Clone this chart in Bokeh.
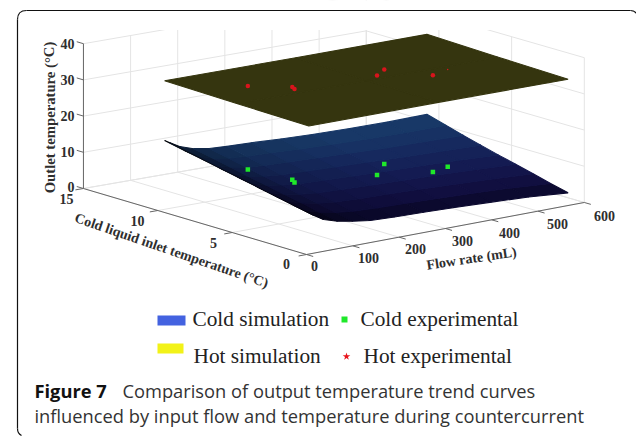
from bokeh.plotting import figure
from bokeh.embed import file_html
from bokeh.resources import INLINE
from bokeh.core.properties import value
import math

# ---- data ----
flow_ticks = [0, 100, 200, 300, 400, 500, 600]
inlet_ticks = [0, 5, 10, 15]
outlet_ticks = [0, 10, 20, 30, 40]

surf_flow = [5, 15, 37, 67, 100, 138, 190, 253, 320, 400, 480, 565]
surf_inlet = [0, 1.2, 2.4, 3.6, 4.8, 6, 7.2, 8.4, 9.7]
cold_z_0 = [11.5, 10.5, 8.8, 7.6, 6.8, 6.1, 5.8, 5.6, 5.3, 4.9, 4.4, 3.5]
cold_z_1 = [12.5, 11.5, 9.8, 8.6, 7.8, 7.2, 6.9, 6.7, 6.4, 6.0, 5.5, 4.7]
cold_z_2 = [13.5, 12.55, 10.9, 9.7, 8.9, 8.3, 8.0, 7.8, 7.5, 7.1, 6.6, 6.0]
cold_z_3 = [14.5, 13.6, 11.9, 10.7, 9.9, 9.4, 9.1, 8.8, 8.5, 8.2, 7.8, 7.2]
cold_z_4 = [15.5, 14.6, 13.0, 11.7, 11.0, 10.5, 10.2, 9.9, 9.6, 9.3, 8.9, 8.4]
cold_z_5 = [16.5, 15.6, 14.0, 12.7, 12.0, 11.5, 11.3, 11.0, 10.7, 10.3, 10.0, 9.7]
cold_z_6 = [17.5, 16.7, 15.0, 13.8, 13.0, 12.6, 12.4, 12.1, 11.8, 11.4, 11.2, 11.0]
cold_z_7 = [18.5, 17.7, 16.1, 14.8, 14.1, 13.7, 13.5, 13.1, 12.8, 12.5, 12.4, 12.4]
cold_z_8 = [19.6, 18.8, 17.2, 15.9, 15.2, 14.9, 14.7, 14.3, 14.0, 13.8, 13.7, 13.9]
cold_rows = [cold_z_0, cold_z_1, cold_z_2, cold_z_3, cold_z_4, cold_z_5, cold_z_6, cold_z_7, cold_z_8]

hot_flow = [5, 285, 565]
hot_inlet = [0, 4.85, 9.7]
hot_z_0 = [35.4, 35.2, 34.9]
hot_z_1 = [35.7, 35.5, 35.4]
hot_z_2 = [36.1, 36.0, 36.0]
hot_rows = [hot_z_0, hot_z_1, hot_z_2]

exp_flow = [110, 164, 158, 329, 365, 403, 449]
exp_inlet = [7.4, 6.1, 5.76, 5.57, 6.22, 4.11, 4.56]
exp_hot = [35, 35, 35, 35, 35, 35, 35]
exp_cold = [11.9, 9.4, 9.2, 7.5, 8.9, 8.3, 8.1]

# ---- styles ----
cold_row_colors = ["#0c0a30", "#110f40", "#13154a", "#141b52", "#152258", "#16295e", "#173163", "#183867", "#1a406c"]
cold_col_shade = [0.10, 0.30, 0.55, 0.72, 0.82, 0.88, 0.93, 0.97, 1, 1, 1, 1]
hot_color = "#35350f"
grid_color = "#e4e4e4"
axis_color = "#666666"
tick_color = "#2e2e2e"


def proj(x, y, z):
    sx = 306 + 0.463 * x - 14.87 * y + 5 * (x / 600) * (y / 15)
    sy = 254 - 0.0867 * x - 4.4 * y - 3.62 * z + 3 * (x / 600) * (y / 15)
    return sx, sy


def shade(c, f):
    r, g, b = int(c[1:3], 16), int(c[3:5], 16), int(c[5:7], 16)
    return "#%02x%02x%02x" % (int(r * f), int(g * f), int(b * f))


p = figure(width=636, height=436, x_range=(0, 636), y_range=(436, 0),
           output_backend="svg", toolbar_location=None, x_axis_location=None,
           y_axis_location=None, min_border=0, outline_line_color=None)
p.grid.visible = False


def seg(a, b, color, width):
    p.line([a[0], b[0]], [a[1], b[1]], line_color=color, line_width=width)


# grid on floor and walls
for x in flow_ticks:
    seg(proj(x, 0, 0), proj(x, 15, 0), grid_color, 1)
    seg(proj(x, 15, 0), proj(x, 15, 40), grid_color, 1)
for y in inlet_ticks:
    seg(proj(0, y, 0), proj(600, y, 0), grid_color, 1)
    seg(proj(600, y, 0), proj(600, y, 40), grid_color, 1)
for z in outlet_ticks:
    seg(proj(0, 15, z), proj(600, 15, z), grid_color, 1)
    seg(proj(600, 15, z), proj(600, 0, z), grid_color, 1)
# picture is cropped above the box top
p.quad(left=0, right=636, top=0, bottom=29, fill_color="white", line_color="white")

# card border
p.line([17, 17], [428, 19], line_color="#111111", line_width=1.2)
p.line([26, 630], [10, 10], line_color="#111111", line_width=1.2)
p.quadratic(x0=[17, 17], y0=[19, 428], x1=[26, 21], y1=[10, 435], cx=[17, 17], cy=[10, 433],
            line_color="#111111", line_width=1.2)
p.quadratic(x0=[630], y0=[10], x1=[636], y1=[13], cx=[634], cy=[10], line_color="#111111", line_width=1.2)

# surfaces
xs, ys, cs = [], [], []
for j in range(len(surf_inlet) - 1):
    for i in range(len(surf_flow) - 1):
        pts = [proj(surf_flow[i], surf_inlet[j], cold_rows[j][i]),
               proj(surf_flow[i + 1], surf_inlet[j], cold_rows[j][i + 1]),
               proj(surf_flow[i + 1], surf_inlet[j + 1], cold_rows[j + 1][i + 1]),
               proj(surf_flow[i], surf_inlet[j + 1], cold_rows[j + 1][i])]
        xs.append([q[0] for q in pts])
        ys.append([q[1] for q in pts])
        cs.append(shade(cold_row_colors[j], cold_col_shade[i]))
p.patches(xs, ys, fill_color=cs, line_color=cs, line_width=1.1)

xs, ys = [], []
for j in range(len(hot_inlet) - 1):
    for i in range(len(hot_flow) - 1):
        pts = [proj(hot_flow[i], hot_inlet[j], hot_rows[j][i]),
               proj(hot_flow[i + 1], hot_inlet[j], hot_rows[j][i + 1]),
               proj(hot_flow[i + 1], hot_inlet[j + 1], hot_rows[j + 1][i + 1]),
               proj(hot_flow[i], hot_inlet[j + 1], hot_rows[j + 1][i])]
        xs.append([q[0] for q in pts])
        ys.append([q[1] for q in pts])
p.patches(xs, ys, fill_color=hot_color, line_color=hot_color, line_width=1.1)

# experimental points
c = [proj(a, b, d) for a, b, d in zip(exp_flow, exp_inlet, exp_cold)]
p.scatter([q[0] for q in c], [q[1] for q in c], marker="square", size=4.5,
          fill_color="#1fe82a", line_color="#1fe82a", line_width=0)
h = [proj(a, b, d) for a, b, d in zip(exp_flow, exp_inlet, exp_hot)]
p.scatter([q[0] for q in h], [q[1] for q in h], marker="circle",
          size=[4.5, 4.5, 4.5, 4.5, 4.5, 4.5, 1.5],
          fill_color="#d8141c", line_color="#d8141c", line_width=0)

# axes
seg(proj(0, 15, 0), proj(0, 15, 40), axis_color, 1)
seg(proj(0, 15, 0), proj(0, 0, 0), axis_color, 1)
seg(proj(0, 0, 0), proj(600, 0, 0), axis_color, 1)
for x in flow_ticks:
    seg(proj(x, 0, 0), proj(x, -0.45, 0), axis_color, 1)
for y in inlet_ticks:
    seg(proj(0, y, 0), proj(-17, y, 0), axis_color, 1)
for z in outlet_ticks:
    seg(proj(0, 15, z), proj(0, 15.45, z), axis_color, 1)

serif = value("Liberation Serif")


def label(x, y, s, size, angle=0.0, color=tick_color, font=serif, style="bold", align="center"):
    p.text([x], [y], text=[s], text_font=font, text_font_size=f"{size}px", text_font_style=style,
           text_color=color, text_align=align, text_baseline="middle", angle=[math.radians(angle)])


for s, yy in zip(outlet_ticks, [186, 151, 115, 79, 43]):
    label(74, yy, str(s), 14, align="right")
for s, a, b in zip(inlet_ticks, [286, 213, 137, 66], [263, 242, 220, 198]):
    label(a, b, str(s), 14)
for s, a, b in zip(flow_ticks, [314, 368, 415, 462, 509, 557, 604], [265, 257, 248, 240, 232, 223, 215]):
    label(a, b, str(s), 14)

label(49, 117, "Outlet temperature (°C)", 14.7, angle=90)
label(171, 250, "Cold liquid inlet temperature (°C)", 14, angle=-19)
label(471, 258, "Flow rate (mL)", 14, angle=8.5)

# legend
p.quad(left=157, right=185, top=315, bottom=325, fill_color="#4362e0", line_color=None)
p.quad(left=157, right=183, top=343, bottom=353, fill_color="#f2f218", line_color=None)
p.scatter([344], [319], marker="square", size=6, fill_color="#1fe82a", line_color=None)
p.scatter([346], [356], marker="star", size=8, fill_color="#e8141c", line_color=None)
label(192, 318, "Cold simulation", 21.3, color="#222222", style="normal", align="left")
label(360, 318, "Cold experimental", 21.3, color="#222222", style="normal", align="left")
label(193, 355, "Hot simulation", 21.3, color="#222222", style="normal", align="left")
label(363, 355, "Hot experimental", 21.3, color="#222222", style="normal", align="left")

# caption
sans = value("Open Sans")
label(34, 390, "Figure 7", 18.3, color="#111111", font=sans, style="bold", align="left")
label(122, 390, "Comparison of output temperature trend curves", 18.3, color="#333333", font=sans, style="normal", align="left")
label(34, 415, "influenced by input flow and temperature during countercurrent", 18.3, color="#333333", font=sans, style="normal", align="left")

open("out.html", "w").write(file_html(p, INLINE))
